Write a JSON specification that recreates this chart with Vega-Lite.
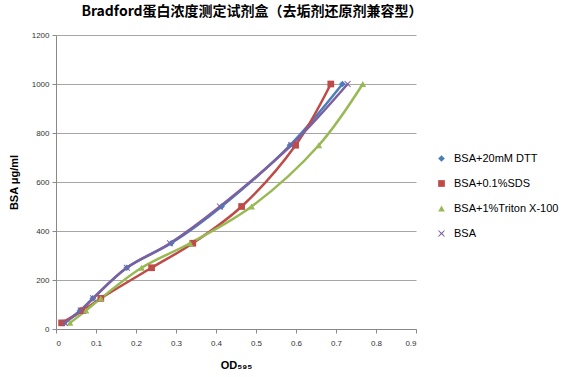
{
  "$schema": "https://vega.github.io/schema/vega-lite/v6.json",
  "width": 360,
  "height": 294,
  "autosize": {"type": "none"},
  "padding": {"left": 56, "top": 35, "right": 151, "bottom": 48},
  "background": "white",
  "title": {
    "text": "Bradford蛋白浓度测定试剂盒（去垢剂还原剂兼容型）",
    "font": "Noto Sans CJK SC",
    "fontSize": 14,
    "fontWeight": "bold",
    "color": "#000000",
    "anchor": "middle",
    "dx": 16,
    "offset": 12
  },
  "config": {
    "view": {"stroke": null},
    "axis": {
      "labelFont": "Liberation Sans",
      "labelFontSize": 8,
      "labelColor": "#333333",
      "domainColor": "#888888",
      "tickColor": "#888888",
      "tickSize": 4,
      "titleFont": "Liberation Sans",
      "titleFontWeight": "bold",
      "titleFontSize": 11,
      "titleColor": "#000000"
    },
    "legend": {
      "labelFont": "Liberation Sans",
      "labelFontSize": 11,
      "labelColor": "#000000",
      "orient": "none",
      "legendX": 380,
      "legendY": 118,
      "rowPadding": 13,
      "labelOffset": 7,
      "symbolSize": 45,
      "symbolStrokeWidth": 0
    }
  },
  "data": {
    "values": [
      {"series": "BSA+20mM DTT", "od": 0.02, "bsa": 25},
      {"series": "BSA+20mM DTT", "od": 0.06, "bsa": 75},
      {"series": "BSA+20mM DTT", "od": 0.092, "bsa": 125},
      {"series": "BSA+20mM DTT", "od": 0.177, "bsa": 250},
      {"series": "BSA+20mM DTT", "od": 0.288, "bsa": 350},
      {"series": "BSA+20mM DTT", "od": 0.414, "bsa": 500},
      {"series": "BSA+20mM DTT", "od": 0.585, "bsa": 750},
      {"series": "BSA+20mM DTT", "od": 0.716, "bsa": 1000},
      {"series": "BSA+0.1%SDS", "od": 0.014, "bsa": 25},
      {"series": "BSA+0.1%SDS", "od": 0.067, "bsa": 75},
      {"series": "BSA+0.1%SDS", "od": 0.112, "bsa": 125},
      {"series": "BSA+0.1%SDS", "od": 0.239, "bsa": 250},
      {"series": "BSA+0.1%SDS", "od": 0.342, "bsa": 350},
      {"series": "BSA+0.1%SDS", "od": 0.464, "bsa": 500},
      {"series": "BSA+0.1%SDS", "od": 0.599, "bsa": 750},
      {"series": "BSA+0.1%SDS", "od": 0.687, "bsa": 1000},
      {"series": "BSA+1%Triton X-100", "od": 0.035, "bsa": 25},
      {"series": "BSA+1%Triton X-100", "od": 0.075, "bsa": 75},
      {"series": "BSA+1%Triton X-100", "od": 0.112, "bsa": 125},
      {"series": "BSA+1%Triton X-100", "od": 0.214, "bsa": 250},
      {"series": "BSA+1%Triton X-100", "od": 0.335, "bsa": 350},
      {"series": "BSA+1%Triton X-100", "od": 0.489, "bsa": 500},
      {"series": "BSA+1%Triton X-100", "od": 0.657, "bsa": 750},
      {"series": "BSA+1%Triton X-100", "od": 0.767, "bsa": 1000},
      {"series": "BSA", "od": 0.022, "bsa": 25},
      {"series": "BSA", "od": 0.062, "bsa": 75},
      {"series": "BSA", "od": 0.093, "bsa": 125},
      {"series": "BSA", "od": 0.177, "bsa": 250},
      {"series": "BSA", "od": 0.285, "bsa": 350},
      {"series": "BSA", "od": 0.41, "bsa": 500},
      {"series": "BSA", "od": 0.588, "bsa": 750},
      {"series": "BSA", "od": 0.729, "bsa": 1000}
    ]
  },
  "encoding": {
    "x": {
      "field": "od",
      "type": "quantitative",
      "scale": {"domain": [0, 0.9], "nice": false},
      "axis": {
        "title": "OD₅₉₅",
        "values": [0, 0.1, 0.2, 0.3, 0.4, 0.5, 0.6, 0.7, 0.8, 0.9],
        "format": "~g",
        "grid": false,
        "labelPadding": 6,
        "titlePadding": 12
      }
    },
    "y": {
      "field": "bsa",
      "type": "quantitative",
      "scale": {"domain": [0, 1200], "nice": false},
      "axis": {
        "title": "BSA μg/ml",
        "values": [0, 200, 400, 600, 800, 1000, 1200],
        "format": "d",
        "grid": true,
        "gridColor": "#a6a6a6",
        "labelPadding": 3,
        "titlePadding": 12
      }
    },
    "color": {
      "field": "series",
      "type": "nominal",
      "title": null,
      "scale": {
        "domain": ["BSA+20mM DTT", "BSA+0.1%SDS", "BSA+1%Triton X-100", "BSA"],
        "range": ["#4a7ebb", "#be4b48", "#98b954", "#7d60a0"]
      }
    }
  },
  "layer": [
    {
      "mark": {"type": "line", "interpolate": "catmull-rom", "strokeWidth": 2.5},
      "encoding": {}
    },
    {
      "mark": {"type": "point", "filled": true, "size": 45, "opacity": 1},
      "encoding": {
        "shape": {
          "field": "series",
          "type": "nominal",
          "title": null,
          "scale": {
            "domain": ["BSA+20mM DTT", "BSA+0.1%SDS", "BSA+1%Triton X-100", "BSA"],
            "range": ["diamond", "square", "triangle-up", "M-1,-0.8L-0.8,-1L0,-0.25L0.8,-1L1,-0.8L0.25,0L1,0.8L0.8,1L0,0.25L-0.8,1L-1,0.8L-0.25,0Z"]
          }
        }
      }
    }
  ]
}
